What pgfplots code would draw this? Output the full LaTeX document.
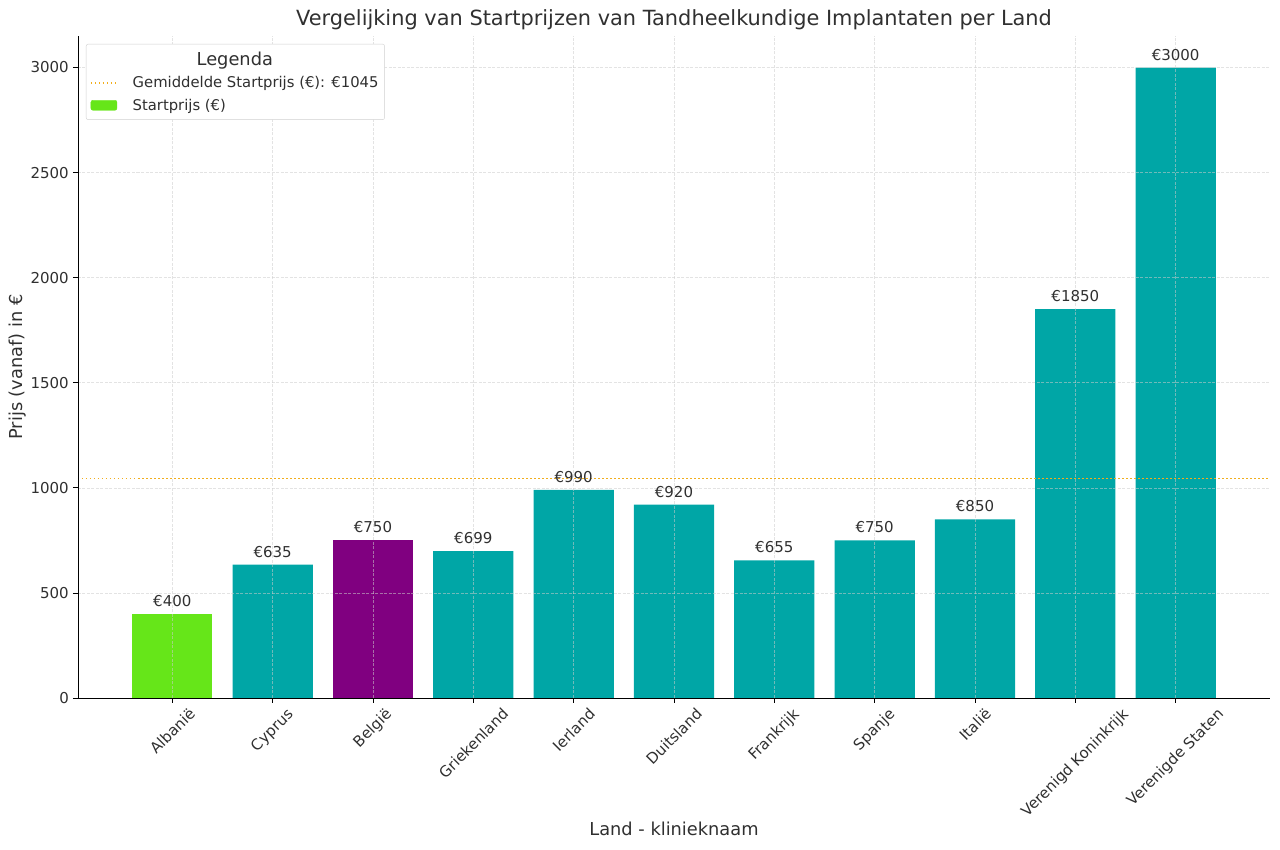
\documentclass[border=0pt]{standalone}
\usepackage{fontspec}
\setmainfont{DejaVu Sans}
\usepackage{pgfplots}
\pgfplotsset{compat=1.18}
\definecolor{tealbar}{HTML}{00A6A6}
\definecolor{greenbar}{HTML}{66E619}
\definecolor{purplebar}{HTML}{800080}
\definecolor{avgline}{HTML}{F2AE1C}
\definecolor{txt}{HTML}{303030}
\pgfkeys{/pgf/number format/.cd,1000 sep={}}
\begin{document}
\begin{tikzpicture}
\useasboundingbox (-78pt,-152pt) rectangle (1202pt,698pt);
\begin{axis}[
  at={(0pt,0pt)}, anchor=south west,
  scale only axis, width=1192pt, height=662pt,
  xmin=-0.94, xmax=10.94, ymin=0, ymax=3150,
  axis x line*=bottom, axis y line*=left,
  axis line style={-, black, line width=0.9pt},
  xtick={0,...,10},
  xticklabels={\rotatebox{45}{Albanië},\rotatebox{45}{Cyprus},\rotatebox{45}{België},\rotatebox{45}{Griekenland},\rotatebox{45}{Ierland},\rotatebox{45}{Duitsland},\rotatebox{45}{Frankrijk},\rotatebox{45}{Spanje},\rotatebox{45}{Italië},\rotatebox{45}{Verenigd Koninkrijk},\rotatebox{45}{Verenigde Staten}},
  ytick={0,500,...,3000},
  tick align=outside, major tick length=5pt,
  tick style={black, line width=0.8pt},
  xticklabel style={anchor=north, inner sep=0pt, yshift=-4pt, font=\fontsize{15}{18}\selectfont, text=txt},
  yticklabel style={font=\fontsize{15}{18}\selectfont, text=txt, inner sep=0pt, xshift=-4pt},
  /pgf/number format/assume math mode=true,
  grid=major,
  grid style={gray!40, opacity=0.55, line width=0.6pt, dash pattern=on 3pt off 1.5pt},
  axis on top,
  title={Vergelijking van Startprijzen van Tandheelkundige Implantaten per Land},
  title style={font=\fontsize{20.9}{25}\selectfont, text=txt, at={(axis description cs:0.5,1)}, anchor=south, yshift=-3pt},
  xlabel={Land - klinieknaam},
  xlabel style={font=\fontsize{17.8}{21}\selectfont, text=txt, at={(axis description cs:0.5,-0.1979)}, anchor=center},
  ylabel={Prijs (vanaf) in €},
  ylabel style={font=\fontsize{17.8}{21}\selectfont, text=txt, at={(axis description cs:-0.0503,0.5)}, anchor=center},
  legend style={at={(rel axis cs:0.0067,0.988)}, anchor=north west, draw=black!18, rounded corners=2pt, fill=white,
    font=\fontsize{14.8}{17}\selectfont, text=txt, inner xsep=4pt, inner ysep=6pt,
    row sep=5.5pt, column sep=13pt},
  legend cell align=left,
  mylabels/.style={nodes near coords={€\pgfmathprintnumber{\pgfplotspointmeta}},
    every node near coord/.append style={font=\fontsize{15}{18}\selectfont, text=txt, anchor=south, inner sep=0pt, yshift=7pt}},
]
\addlegendimage{empty legend}
\addlegendentry{\hspace{64pt}\fontsize{17.8}{20}\selectfont Legenda}
\addlegendimage{legend image code/.code={\draw[avgline, line width=1.5pt, dash pattern=on 1.5pt off 2.5pt] (0pt,0pt) -- (26pt,0pt);}}
\addlegendentry{Gemiddelde Startprijs (€): €1045}
\addlegendimage{legend image code/.code={\fill[greenbar] (0pt,-5pt) rectangle (26pt,5pt);}}
\addlegendentry{Startprijs (€)}

\addplot[forget plot, ybar, bar width=0.8, bar shift=0pt, fill=tealbar, draw=none, mylabels]
  coordinates {(1,635) (3,699) (4,990) (5,920) (6,655) (7,750) (8,850) (9,1850) (10,3000)};
\addplot[forget plot, ybar, bar width=0.8, bar shift=0pt, fill=greenbar, draw=none, mylabels]
  coordinates {(0,400)};
\addplot[forget plot, ybar, bar width=0.8, bar shift=0pt, fill=purplebar, draw=none, mylabels]
  coordinates {(2,750)};
\addplot[forget plot, avgline, line width=1.5pt, dash pattern=on 1.5pt off 2.5pt]
  coordinates {(-0.94,1045) (10.94,1045)};
\end{axis}
\end{tikzpicture}
\end{document}
